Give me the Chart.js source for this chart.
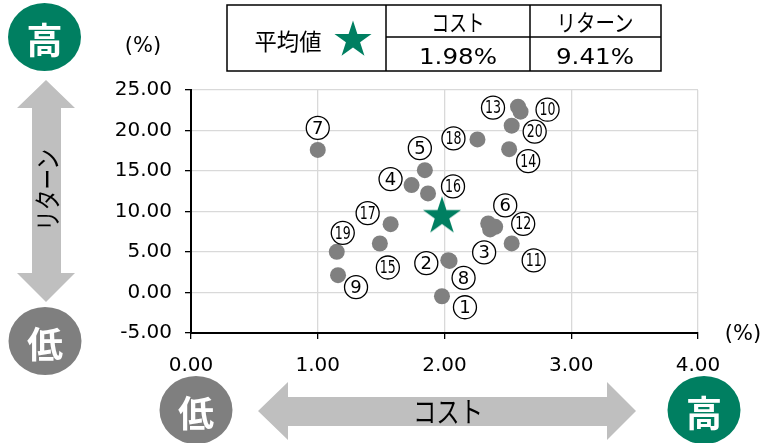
<!DOCTYPE html>
<html lang="ja">
<head>
<meta charset="utf-8">
<script src="https://cdn.jsdelivr.net/npm/chart.js@4.4.1/dist/chart.umd.min.js"></script>
<style>
  body { margin: 0; background: #fff; }
  #wrap { position: relative; width: 763px; height: 443px; overflow: hidden; }
  #chart { position: absolute; left: 0; top: 0; }
  #deco { position: absolute; left: 0; top: 0; pointer-events: none; }
  .jp { font-family: "Noto Sans CJK JP", sans-serif; }
  .num { font-family: "DejaVu Sans", sans-serif; }
</style>
</head>
<body>
<div id="wrap">
  <canvas id="chart" width="763" height="443"></canvas>
  <svg id="deco" width="763" height="443">
    <!-- return arrow (left) -->
    <polygon fill="#BFBFBF" points="46,80 75,108 61,108 61,273 75,273 46,302 17,273 32,273 32,108 17,108"/>
    <text class="jp" x="46" y="190" font-size="27" fill="#000" text-anchor="middle" dominant-baseline="central" textLength="82" lengthAdjust="spacingAndGlyphs" transform="rotate(-90 46 190)">リターン</text>
    <ellipse cx="44.5" cy="37" rx="36.5" ry="34" fill="#007F61"/>
    <text class="jp" x="44.5" y="38" font-size="36" font-weight="700" fill="#fff" text-anchor="middle" dominant-baseline="central">高</text>
    <ellipse cx="45" cy="341" rx="36.5" ry="34" fill="#7F7F7F"/>
    <text class="jp" x="45" y="342" font-size="36" font-weight="700" fill="#fff" text-anchor="middle" dominant-baseline="central">低</text>

    <!-- cost arrow (bottom) -->
    <polygon fill="#BFBFBF" points="258,411 288,382 288,397 607,397 607,382 636,411 607,440 607,426 288,426 288,440"/>
    <text class="jp" x="448" y="410" font-size="29" fill="#000" text-anchor="middle" dominant-baseline="central" textLength="70" lengthAdjust="spacingAndGlyphs">コスト</text>
    <ellipse cx="196" cy="410" rx="36.5" ry="34" fill="#7F7F7F"/>
    <text class="jp" x="196" y="411" font-size="36" font-weight="700" fill="#fff" text-anchor="middle" dominant-baseline="central">低</text>
    <ellipse cx="704" cy="410" rx="36.5" ry="34" fill="#007F61"/>
    <text class="jp" x="704" y="411" font-size="36" font-weight="700" fill="#fff" text-anchor="middle" dominant-baseline="central">高</text>

    <!-- unit labels -->
    <text class="num" x="143" y="45" font-size="21" fill="#000" text-anchor="middle" dominant-baseline="central">(%)</text>
    <text class="num" x="743" y="333" font-size="21" fill="#000" text-anchor="middle" dominant-baseline="central">(%)</text>

    <!-- average table -->
    <rect x="227" y="5" width="434" height="66" fill="#fff" stroke="#000" stroke-width="1.5"/>
    <line x1="386" y1="5" x2="386" y2="71" stroke="#000" stroke-width="1.5"/>
    <line x1="530" y1="5" x2="530" y2="71" stroke="#000" stroke-width="1.5"/>
    <line x1="386" y1="37" x2="661" y2="37" stroke="#000" stroke-width="1.5"/>
    <text class="jp" x="288" y="40" font-size="23" fill="#000" text-anchor="middle" dominant-baseline="central" textLength="67" lengthAdjust="spacingAndGlyphs">平均値</text>
    <polygon id="tableStar" fill="#007F61"/>
    <text class="jp" x="458" y="21" font-size="23" fill="#000" text-anchor="middle" dominant-baseline="central" textLength="53" lengthAdjust="spacingAndGlyphs">コスト</text>
    <text class="jp" x="595" y="21" font-size="23" fill="#000" text-anchor="middle" dominant-baseline="central" textLength="77" lengthAdjust="spacingAndGlyphs">リターン</text>
    <text id="avgCostText" class="num" x="458" y="56" font-size="22" fill="#000" text-anchor="middle" dominant-baseline="central" textLength="78" lengthAdjust="spacingAndGlyphs"></text>
    <text id="avgReturnText" class="num" x="595" y="56" font-size="22" fill="#000" text-anchor="middle" dominant-baseline="central" textLength="78" lengthAdjust="spacingAndGlyphs"></text>
  </svg>
</div>
<script>
// fund numbers, cost (%) and return (%)
const fundNos = [1, 2, 3, 4, 5, 6, 7, 8, 9, 10, 11, 12, 13, 14, 15, 16, 17, 18, 19, 20];
const costs = [1.98, 2.03, 2.36, 1.74, 1.845, 2.345, 1.0, 2.04, 1.16, 2.6, 2.53, 2.4, 2.58, 2.51, 1.49, 1.87, 1.575, 2.26, 1.15, 2.53];
const returns = [-0.46, 3.99, 7.79, 13.26, 15.1, 8.53, 17.6, 3.9, 2.14, 22.32, 6.06, 8.11, 22.94, 17.7, 6.05, 12.23, 8.44, 18.9, 5.02, 20.6];
const avgCost = 1.98;
const avgReturn = 9.41;
const costTicks = [0, 1, 2, 3, 4];
const returnTicks = [-5, 0, 5, 10, 15, 20, 25];

// where each circled number sits relative to its dot (px)
const labelOffsets = [
  [23, 11], [-22, 3], [-6, 23], [-21, -6], [-5, -22], [17, -18], [0, -22], [14, 17], [18, 12], [27, -2],
  [22, 17], [28, -3], [-25, 1], [19, 12], [8, 24], [25, -7], [-23, -11], [-24, -1], [6, -19], [23, 6],
];

const GREEN = "#007F61";
const STAR_R = 20;

function starPoints(cx, cy, R) {
  const r = R * 0.382;
  const pts = [];
  for (let i = 0; i < 10; i++) {
    const a = -Math.PI / 2 + (i * Math.PI) / 5;
    const rad = i % 2 === 0 ? R : r;
    pts.push([cx + rad * Math.cos(a), cy + rad * Math.sin(a)]);
  }
  return pts;
}

function makeStar() {
  const c = document.createElement("canvas");
  c.width = STAR_R * 2 + 2;
  c.height = STAR_R * 2 + 2;
  const g = c.getContext("2d");
  g.fillStyle = GREEN;
  g.beginPath();
  starPoints(c.width / 2, c.height / 2, STAR_R).forEach(([x, y], i) => (i ? g.lineTo(x, y) : g.moveTo(x, y)));
  g.closePath();
  g.fill();
  return c;
}

document.getElementById("tableStar").setAttribute(
  "points",
  starPoints(353, 40, 19.5).map((p) => p.join(",")).join(" ")
);
document.getElementById("avgCostText").textContent = avgCost.toFixed(2) + "%";
document.getElementById("avgReturnText").textContent = avgReturn.toFixed(2) + "%";

const fundLabels = {
  id: "fundLabels",
  afterDatasetsDraw(chart) {
    const ctx = chart.ctx;
    const meta = chart.getDatasetMeta(0);
    ctx.save();
    meta.data.forEach((pt, i) => {
      const [dx, dy] = labelOffsets[i];
      const cx = pt.x + dx;
      const cy = pt.y + dy;
      ctx.beginPath();
      ctx.arc(cx, cy, 11.5, 0, Math.PI * 2);
      ctx.fillStyle = "#fff";
      ctx.fill();
      ctx.lineWidth = 1.3;
      ctx.strokeStyle = "#000";
      ctx.stroke();

      const txt = String(fundNos[i]);
      ctx.font = '18px "DejaVu Sans"';
      ctx.fillStyle = "#000";
      ctx.textAlign = "center";
      ctx.textBaseline = "middle";
      const w = ctx.measureText(txt).width;
      ctx.save();
      ctx.translate(cx, cy + 1);
      if (w > 16) ctx.scale(16 / w, 1);
      ctx.fillText(txt, 0, 0);
      ctx.restore();
    });
    ctx.restore();
  },
};

const tickFont = { family: "DejaVu Sans", size: 20 };

new Chart(document.getElementById("chart"), {
  type: "scatter",
  data: {
    datasets: [
      {
        data: costs.map((c, i) => ({ x: c, y: returns[i] })),
        backgroundColor: "#808080",
        borderWidth: 0,
        pointRadius: 8,
        pointHoverRadius: 8,
      },
      {
        data: [{ x: avgCost, y: avgReturn }],
        pointStyle: makeStar(),
        pointRadius: STAR_R,
      },
    ],
  },
  options: {
    responsive: false,
    animation: false,
    layout: { padding: { left: 100, right: 65, top: 90, bottom: 60 } },
    plugins: {
      legend: { display: false },
      tooltip: { enabled: false },
    },
    scales: {
      x: {
        type: "linear",
        min: costTicks[0],
        max: costTicks[costTicks.length - 1],
        afterFit: (s) => { s.height = 50; },
        ticks: {
          stepSize: costTicks[1] - costTicks[0],
          callback: (v) => v.toFixed(2),
          color: "#000",
          font: tickFont,
          padding: 15,
          maxRotation: 0,
        },
        grid: { color: "#D9D9D9", tickColor: "#000", tickLength: 6, lineWidth: 1.3 },
        border: { color: "#000", width: 2 },
      },
      y: {
        type: "linear",
        min: returnTicks[0],
        max: returnTicks[returnTicks.length - 1],
        afterFit: (s) => { s.width = 91; },
        ticks: {
          stepSize: returnTicks[1] - returnTicks[0],
          callback: (v) => v.toFixed(2),
          color: "#000",
          font: tickFont,
          padding: 13,
        },
        grid: { color: "#D9D9D9", tickColor: "#000", tickLength: 6, lineWidth: 1.3 },
        border: { color: "#000", width: 2 },
      },
    },
  },
  plugins: [fundLabels],
});
</script>
</body>
</html>
